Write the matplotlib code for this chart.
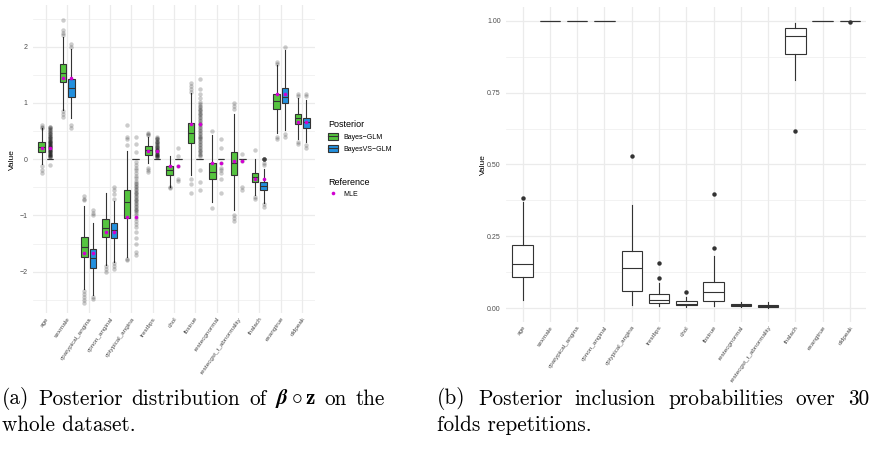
import numpy as np
import matplotlib
matplotlib.use('Agg')
import matplotlib.pyplot as plt
from matplotlib.patches import Patch
from matplotlib.lines import Line2D
from matplotlib.legend_handler import HandlerTuple

plt.rcParams['font.family'] = ['Liberation Sans', 'DejaVu Sans']
plt.rcParams['mathtext.fontset'] = 'cm'

variables = ['age', 'sexmale', 'cpatypical_angina', 'cpnon_anginal', 'cptypical_angina',
             'trestbps', 'chol', 'fbstrue', 'restecgnormal', 'restecgst_t_abnormality',
             'thalach', 'exangtrue', 'oldpeak']

# (a) posterior of beta o z, Bayes-GLM
glm_q1 = [0.135, 1.37, -1.74, -1.39, -1.04, 0.075, -0.28, 0.28, -0.35, -0.28, -0.40, 0.89, 0.62]
glm_med = [0.22, 1.53, -1.57, -1.22, -0.77, 0.155, -0.20, 0.47, -0.22, -0.07, -0.31, 1.03, 0.73]
glm_q3 = [0.30, 1.69, -1.38, -1.07, -0.55, 0.225, -0.13, 0.65, -0.06, 0.13, -0.25, 1.16, 0.80]
glm_lo = [-0.08, 0.875, -2.30, -1.88, -1.74, -0.07, -0.49, -0.28, -0.77, -0.90, -0.63, 0.46, 0.35]
glm_hi = [0.545, 2.18, -0.84, -0.60, 0.14, 0.40, 0.05, 1.17, 0.43, 0.81, 0.0, 1.67, 1.09]
glm_out = [
    [0.56, 0.58, 0.60, -0.12, -0.20, -0.25],
    [2.20, 2.25, 2.30, 2.47, 0.85, 0.80, 0.75],
    [-0.65, -0.70, -0.72, -2.35, -2.40, -2.45, -2.50, -2.55],
    [-1.90, -1.95, -2.00],
    [0.25, 0.36, 0.40, 0.60, -1.77, -1.80],
    [0.43, 0.45, 0.47, -0.15, -0.20, -0.22],
    [-0.50, -0.52],
    [1.20, 1.25, 1.30, 1.35, -0.35, -0.45, -0.60],
    [0.50, -0.87],
    [0.90, 0.95, 0.99, -1.00, -1.05, -1.10],
    [0.17, -0.68, -0.70],
    [1.70, 1.72, 0.40, 0.35],
    [1.12, 1.15, 0.30, 0.27],
]

# BayesVS-GLM
vs_q1 = [0, 1.11, -1.94, -1.40, 0, 0, 0, 0, 0, 0, -0.55, 0.99, 0.56]
vs_med = [0, 1.26, -1.76, -1.26, 0, 0, 0, 0, 0, 0, -0.47, 1.11, 0.66]
vs_q3 = [0, 1.42, -1.60, -1.13, 0, 0, 0, 0, 0, 0, -0.40, 1.26, 0.74]
vs_lo = [0, 0.73, -2.41, -1.83, 0, 0, 0, 0, 0, 0, -0.78, 0.52, 0.31]
vs_hi = [0, 1.95, -1.14, -0.75, 0, 0, 0, 0, 0, 0, -0.18, 1.94, 1.05]
vs_out = [
    [0.58, 0.57, 0.55, 0.53, 0.52, 0.50, 0.48, 0.47, 0.45, 0.44, 0.42, 0.41, 0.40, 0.38, 0.37,
     0.36, 0.34, 0.33, 0.32, 0.31, 0.30, 0.29, 0.28, 0.27, 0.26, 0.25, 0.24, 0.23, 0.22, 0.21,
     0.20, 0.19, 0.18, 0.17, 0.16, 0.15, 0.14, 0.13, 0.12, 0.11, 0.10, 0.09, 0.08, 0.07, 0.06,
     0.05, 0.04, 0.03, -0.10],
    [2.00, 2.05, 0.60, 0.55],
    [-0.90, -0.95, -1.00, -2.45, -2.48],
    [-0.50, -0.55, -0.62, -0.70, -1.85, -1.90, -1.95],
    [0.40, 0.27, 0.12, -0.05, -0.10, -0.15, -0.20, -0.25, -0.30, -0.34, -0.38, -0.42, -0.45,
     -0.48, -0.50, -0.53, -0.55, -0.58, -0.60, -0.62, -0.65, -0.67, -0.70, -0.72, -0.75, -0.78,
     -0.80, -0.83, -0.85, -0.88, -0.90, -0.93, -0.96, -1.00, -1.05, -1.10, -1.15, -1.20, -1.30,
     -1.40, -1.50, -1.65, -1.70],
    [0.40, 0.38, 0.36, 0.35, 0.33, 0.31, 0.30, 0.28, 0.27, 0.25, 0.24, 0.22, 0.21, 0.20, 0.18,
     0.17, 0.16, 0.15, 0.14, 0.12, 0.11, 0.10, 0.09, 0.08, 0.07, 0.06, 0.05, 0.04, 0.03],
    [0.19, 0.05, -0.13, -0.35, -0.38],
    [1.43, 1.25, 1.15, 1.08, 1.02, 0.98, 0.95, 0.92, 0.90, 0.87, 0.85, 0.82, 0.80, 0.78, 0.75,
     0.73, 0.70, 0.68, 0.65, 0.63, 0.60, 0.58, 0.55, 0.52, 0.50, 0.47, 0.45, 0.42, 0.40, 0.37,
     0.35, 0.32, 0.30, 0.27, 0.25, 0.22, 0.20, 0.17, 0.15, 0.12, 0.10, 0.07, 0.05, -0.20, -0.40,
     -0.55],
    [0.35, 0.20, -0.06, -0.15, -0.20, -0.25, -0.35, -0.60],
    [0.10, -0.04, -0.50, -0.55],
    [0.0, 0.0, 0.0, 0.0, 0.0, 0.0, -0.06, -0.10, -0.80, -0.85],
    [2.00, 0.45, 0.40],
    [1.12, 1.15, 0.25, 0.20],
]

mle = [0.195, 1.44, -1.66, -1.29, -1.03, 0.15, -0.13, 0.63, -0.06, -0.04, -0.36, 1.15, 0.66]

# (b) inclusion probabilities over 30 folds
pip_q1 = [0.11, 1, 1, 1, 0.06, 0.017, 0.010, 0.026, 0.008, 0.004, 0.885, 1, 1]
pip_med = [0.155, 1, 1, 1, 0.14, 0.029, 0.015, 0.057, 0.011, 0.007, 0.948, 1, 1]
pip_q3 = [0.22, 1, 1, 1, 0.20, 0.049, 0.024, 0.092, 0.016, 0.012, 0.976, 1, 1]
pip_lo = [0.03, 1, 1, 1, 0.01, 0.008, 0.005, 0.008, 0.005, 0.002, 0.793, 1, 1]
pip_hi = [0.37, 1, 1, 1, 0.36, 0.089, 0.040, 0.18, 0.020, 0.020, 0.992, 1, 1]
pip_out = [[0.385], [], [], [], [0.53], [0.106, 0.156], [0.056], [0.208, 0.396],
           [], [], [0.616], [], [0.997]]

caption_a = [r'(a) Posterior distribution of $\boldsymbol{\beta} \circ \mathbf{z}$ on the', 'whole dataset.']
caption_b = ['(b) Posterior inclusion probabilities over 30', 'folds repetitions.']

green = '#55C43F'
blue = '#2390DE'
magenta = '#D000D0'
edge = '#333333'
txt = '#4D4D4D'
gridc = '#EBEBEB'


def make_stats(q1, med, q3, lo, hi, out):
    return [dict(q1=a, med=b, q3=c, whislo=d, whishi=e, fliers=f)
            for a, b, c, d, e, f in zip(q1, med, q3, lo, hi, out)]


def style_axes(ax):
    for s in ax.spines.values():
        s.set_visible(False)
    ax.tick_params(length=0, labelsize=5, labelcolor=txt)
    ax.tick_params(axis='y', pad=4)
    ax.tick_params(axis='x', pad=2)
    ax.grid(True, which='major', color=gridc, lw=0.9)
    ax.grid(True, which='minor', axis='y', color=gridc, lw=0.45)
    ax.set_axisbelow(True)
    ax.set_xticks(pos)
    ax.set_xticklabels(variables, rotation=55, ha='right', rotation_mode='anchor', fontsize=4.6)
    ax.set_xlim(0.4, 13.6)
    ax.set_ylabel('Value', fontsize=6, color='black')


def justified_line(text, x0, x1, y, **kw):
    # latex-like justified line: spread the words between x0 and x1 (pixels)
    words = []
    buf = ''
    for part in text.split(' '):
        buf = part if not buf else buf + ' ' + part
        if buf.count('$') % 2 == 0:
            words.append(buf)
            buf = ''
    r = fig.canvas.get_renderer()
    items = [fig.text(0, y, w, **kw) for w in words]
    widths = [t.get_window_extent(r).width for t in items]
    gap = (x1 - x0 - sum(widths)) / (len(items) - 1)
    x = x0
    for t, w in zip(items, widths):
        t.set_x(x / 872)
        x += w + gap


fig = plt.figure(figsize=(8.72, 4.62), dpi=100)
pos = np.arange(1, len(variables) + 1)

flier = dict(marker='o', markerfacecolor='black', markeredgecolor='none', alpha=0.2, markersize=3.2)

# ---- (a)
ax1 = fig.add_axes([33 / 872, 1 - 313.3 / 462, 282 / 872, 308.3 / 462])
style_axes(ax1)
for stats, off, col in [(make_stats(glm_q1, glm_med, glm_q3, glm_lo, glm_hi, glm_out), -0.2, green),
                        (make_stats(vs_q1, vs_med, vs_q3, vs_lo, vs_hi, vs_out), 0.2, blue)]:
    ax1.bxp(stats, positions=pos + off, widths=0.31, patch_artist=True, showcaps=False,
            boxprops=dict(facecolor=col, edgecolor=edge, lw=0.8),
            medianprops=dict(color=edge, lw=0.8),
            whiskerprops=dict(color=edge, lw=0.8),
            flierprops=flier, manage_ticks=False)
    ax1.plot(pos + off, mle, 'o', color=magenta, ms=2.6, mec='none', zorder=5)
ax1.set_yticks([-2, -1, 0, 1, 2])
ax1.set_yticks([-2.5, -1.5, -0.5, 0.5, 1.5, 2.5], minor=True)
ax1.tick_params(which='minor', length=0)
ax1.set_ylim(-2.74, 2.74)
ax1.yaxis.set_label_coords(-0.06, 0.5)

# legends
key_line = Line2D([], [], color=edge, lw=0.8)
fig.legend([(Patch(facecolor=green, edgecolor=edge, lw=0.8), key_line),
            (Patch(facecolor=blue, edgecolor=edge, lw=0.8), key_line)],
           ['Bayes\u2212GLM', 'BayesVS\u2212GLM'], title='Posterior',
           handler_map={tuple: HandlerTuple(ndivide=1, pad=0)},
           loc='upper left', bbox_to_anchor=(322 / 872, 1 - 114 / 462), frameon=False,
           fontsize=5, title_fontsize=6.5, alignment='left', handlelength=1.45,
           handleheight=1.2, handletextpad=0.7, labelspacing=0.55)
fig.legend([Line2D([], [], marker='o', ls='none', color=magenta, ms=2.6, mec='none')], ['MLE'],
           title='Reference', loc='upper left', bbox_to_anchor=(322 / 872, 1 - 172 / 462),
           frameon=False, fontsize=5, title_fontsize=6.5, alignment='left', handlelength=1.45,
           handletextpad=0.7)

# ---- (b)
ax2 = fig.add_axes([506.3 / 872, 1 - 322 / 462, 360 / 872, 315.3 / 462])
style_axes(ax2)
ax2.bxp(make_stats(pip_q1, pip_med, pip_q3, pip_lo, pip_hi, pip_out), positions=pos, widths=0.75,
        patch_artist=True, showcaps=False,
        boxprops=dict(facecolor='white', edgecolor=edge, lw=0.8),
        medianprops=dict(color=edge, lw=0.8),
        whiskerprops=dict(color=edge, lw=0.8),
        flierprops=dict(marker='o', markerfacecolor=edge, markeredgecolor='none', markersize=3.2),
        manage_ticks=False)
ax2.set_yticks([0, 0.25, 0.5, 0.75, 1.0])
ax2.set_yticks([0.125, 0.375, 0.625, 0.875], minor=True)
ax2.tick_params(which='minor', length=0)
ax2.set_yticklabels(['0.00', '0.25', '0.50', '0.75', '1.00'])
ax2.set_ylim(-0.048, 1.049)
ax2.yaxis.set_label_coords(-0.055, 0.5)

# captions
cap = dict(fontsize=15.3, family='cmr10', va='center', ha='left')
justified_line(caption_a[0], 2, 385, 1 - 399 / 462, **cap)
fig.text(2 / 872, 1 - 425 / 462, caption_a[1], **cap)
justified_line(caption_b[0], 437, 869, 1 - 399 / 462, **cap)
fig.text(437 / 872, 1 - 425 / 462, caption_b[1], **cap)

fig.savefig('out.png', dpi=100)
